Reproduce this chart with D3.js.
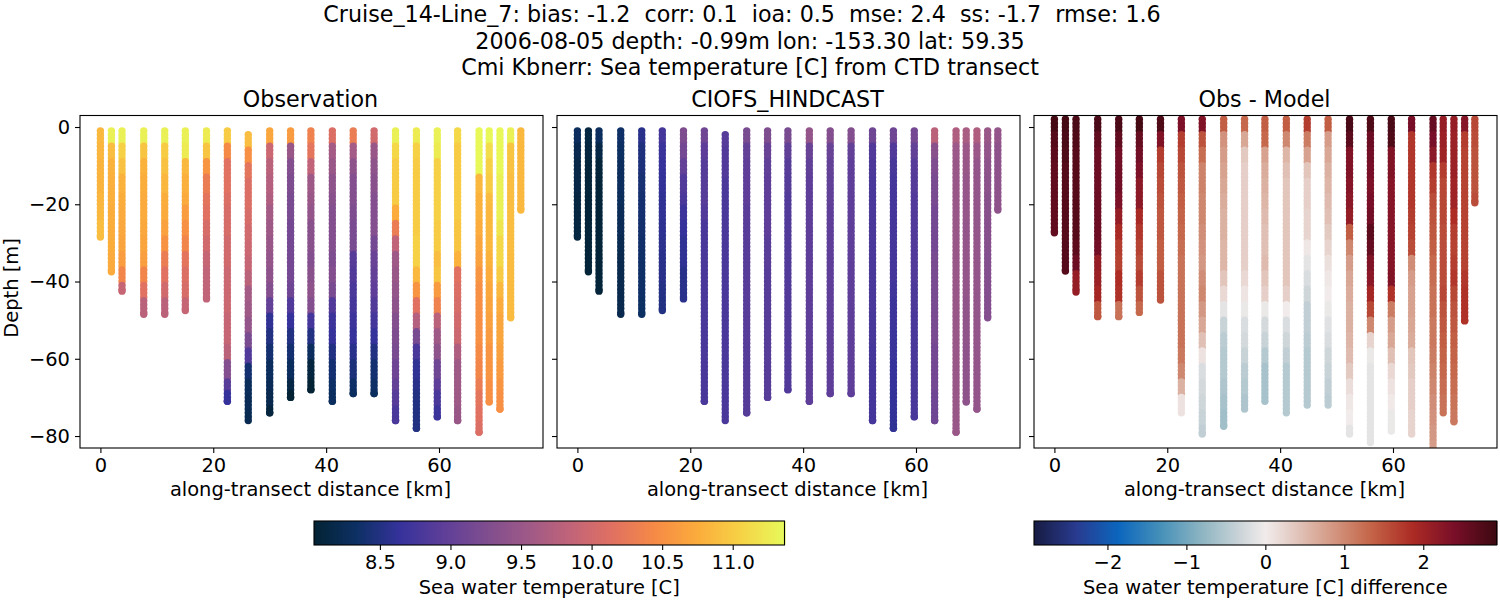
<!DOCTYPE html>
<html>
<head>
<meta charset="utf-8">
<script src="https://cdnjs.cloudflare.com/ajax/libs/d3/7.8.5/d3.min.js"></script>
<style>
  body { margin: 0; background: #fff; }
  text { font-family: "DejaVu Sans"; fill: #000; white-space: pre; }
  .tick text { font-size: 19.44px; }
  .domain { display: none; }
  .tick line { stroke: #000; stroke-width: 1.1px; }
</style>
</head>
<body>
<svg id="vis" width="1500" height="600"></svg>
<script>
var titleLines = [
  "Cruise_14-Line_7: bias: -1.2  corr: 0.1  ioa: 0.5  mse: 2.4  ss: -1.7  rmse: 1.6",
  "2006-08-05 depth: -0.99m lon: -153.30 lat: 59.35",
  "Cmi Kbnerr: Sea temperature [C] from CTD transect"
];
var titleCenters = [742, 750, 750];
var panelTitles = ["Observation", "CIOFS_HINDCAST", "Obs - Model"];
var xTicks = [0, 20, 40, 60];
var yTicks = [0, -20, -40, -60, -80];
var tempTicks = [8.5, 9, 9.5, 10, 10.5, 11];
var diffTicks = [-2, -1, 0, 1, 2];
var tempRange = [8.033, 11.367];
var diffRange = [-2.93, 2.93];

// station positions along the transect, km
var stationKm = [0, 1.95, 3.83, 7.68, 11.4, 15.05, 18.8, 22.5, 26.2, 30, 33.7, 37.3, 41.1, 44.8, 48.5, 52.3, 56, 59.7, 63.3, 67.1, 68.9, 70.8, 72.7, 74.5];

// shallowest and deepest reading per station, m
var obsTop = [-0.99, -0.99, -0.99, -0.99, -0.99, -0.99, -0.99, -0.99, -2, -0.99, -0.99, -0.99, -0.99, -0.99, -0.99, -0.99, -0.99, -0.99, -0.99, -0.99, -0.99, -0.99, -0.99, -0.99];
var obsBottom = [-28.5, -37.5, -42.5, -48.5, -48.5, -47.5, -44.5, -71, -76, -74, -70, -68, -71, -69, -69, -76, -78, -75, -76, -79, -71.2, -73, -49.4, -21.5];
var diffTop = [2, 2, 2, 2, 2, 2, 2, 2, 2, 2, 2, 2, 2, 2, 2, 2, 2, 2, 2, 2, 2, 2, 2, 2];
var diffBottom = [-27.4, -37.3, -42.7, -49.1, -49.1, -48, -44.8, -74, -79.5, -77.5, -73, -71, -74, -72, -72, -79.5, -81.7, -78.7, -79.5, -84, -74, -76.3, -50.2, -19.6];

// each list holds one reading per 4 m of depth, from the top of the station down
var bandMetres = 4;

var obsTemp = [
  [10.85, 10.83, 10.82, 10.82, 10.83, 10.85, 10.9, 10.96],
  [11.3, 10.9, 10.8, 10.78, 10.78, 10.76, 10.76, 10.76, 10.74, 10.74],
  [11.3, 11.05, 10.92, 10.8, 10.76, 10.74, 10.72, 10.68, 10.62, 10.4, 9.9],
  [11.3, 10.95, 10.8, 10.76, 10.74, 10.74, 10.72, 10.68, 10.64, 10.4, 10.15, 9.8, 9.55],
  [11.3, 11.0, 10.92, 10.84, 10.76, 10.74, 10.66, 10.52, 10.3, 10.15, 10.0, 9.8, 9.6],
  [11.3, 11.25, 10.85, 10.78, 10.74, 10.62, 10.5, 10.4, 10.2, 10.1, 10.05, 9.9, 9.6],
  [11.25, 10.95, 10.55, 10.3, 10.2, 10.15, 10.05, 10.0, 9.9, 9.85, 9.85, 9.85],
  [11.0, 10.45, 10.15, 10.15, 10.1, 10.05, 10.05, 10.0, 10.0, 9.95, 9.95, 9.95, 9.9, 9.9, 9.8, 9.3, 8.9, 8.65],
  [10.9, 10.5, 10.2, 10.1, 10.1, 10.05, 10.0, 9.95, 9.9, 9.8, 9.6, 9.55, 9.45, 9.2, 8.85, 8.4, 8.28, 8.25, 8.22, 8.2],
  [10.7, 9.95, 9.8, 9.75, 9.7, 9.6, 9.55, 9.5, 9.45, 9.4, 9.3, 9.0, 8.6, 8.5, 8.4, 8.3, 8.25, 8.2, 8.1],
  [10.6, 9.5, 9.3, 9.25, 9.2, 9.2, 9.15, 9.15, 9.15, 9.15, 9.1, 8.85, 8.65, 8.5, 8.4, 8.3, 8.15, 8.05],
  [10.35, 10.2, 9.85, 9.55, 9.5, 9.45, 9.35, 9.35, 9.3, 9.35, 9.4, 9.3, 8.75, 8.5, 8.3, 8.1, 8.05],
  [10.1, 9.6, 9.5, 9.4, 9.35, 9.3, 9.3, 9.3, 9.25, 9.3, 9.2, 8.85, 8.7, 8.65, 8.5, 8.4, 8.35, 8.3],
  [10.3, 9.6, 9.4, 9.3, 9.3, 9.25, 9.2, 9.2, 8.9, 8.85, 8.8, 8.75, 8.7, 8.65, 8.55, 8.45, 8.35, 8.3],
  [10.0, 9.5, 9.4, 9.35, 9.3, 9.3, 9.3, 9.15, 9.05, 9.0, 8.95, 8.85, 8.75, 8.65, 8.5, 8.4, 8.35, 8.3],
  [11.3, 11.1, 11.0, 11.0, 11.0, 10.75, 10.3, 9.85, 9.55, 9.5, 9.45, 9.4, 9.3, 9.25, 9.2, 9.1, 9.0, 8.9, 8.8, 8.7],
  [11.25, 11.05, 11.0, 11.0, 11.0, 11.0, 11.0, 11.05, 11.05, 10.85, 10.55, 10.15, 9.75, 9.2, 8.8, 8.6, 8.55, 8.5, 8.5, 8.5],
  [11.3, 11.25, 11.05, 11.05, 11.05, 11.05, 11.0, 11.0, 10.9, 10.95, 10.6, 10.35, 9.8, 9.55, 9.4, 9.1, 8.95, 8.8, 8.7],
  [11.1, 11.0, 11.0, 11.0, 11.0, 11.0, 10.95, 10.95, 10.8, 10.15, 10.1, 10.05, 10.0, 9.95, 9.7, 9.55, 9.55, 9.55, 9.5, 9.5],
  [11.35, 11.35, 11.35, 10.85, 10.8, 10.8, 10.75, 10.7, 10.65, 10.55, 10.5, 10.5, 10.5, 10.5, 10.45, 10.4, 10.3, 10.2, 10.15, 10.1],
  [11.35, 11.15, 11.05, 11.0, 10.88, 10.85, 10.85, 10.85, 10.8, 10.75, 10.72, 10.68, 10.65, 10.6, 10.55, 10.55, 10.5, 10.5],
  [11.35, 11.35, 11.35, 11.3, 11.3, 11.3, 11.2, 11.1, 11.1, 11.0, 10.85, 10.75, 10.7, 10.7, 10.65, 10.6, 10.55, 10.5, 10.5],
  [11.3, 10.95, 10.92, 10.9, 10.9, 10.9, 10.9, 10.9, 10.88, 10.88, 10.88, 10.88, 10.88],
  [10.85, 10.85, 10.85, 10.85, 10.85, 10.85]
];

var modelTemp = [
  [8.3, 8.2, 8.15, 8.15, 8.12, 8.12, 8.12, 8.12],
  [8.12, 8.1, 8.08, 8.08, 8.07, 8.07, 8.07, 8.07, 8.07, 8.07],
  [8.3, 8.15, 8.08, 8.07, 8.07, 8.07, 8.07, 8.07, 8.07, 8.07, 8.07],
  [8.35, 8.33, 8.3, 8.3, 8.28, 8.25, 8.25, 8.22, 8.2, 8.2, 8.2, 8.2, 8.2],
  [8.55, 8.48, 8.45, 8.42, 8.4, 8.4, 8.38, 8.37, 8.35, 8.35, 8.35, 8.33, 8.33],
  [8.75, 8.68, 8.65, 8.62, 8.6, 8.6, 8.58, 8.57, 8.55, 8.55, 8.52, 8.5, 8.5],
  [9.25, 9.15, 9.0, 8.85, 8.8, 8.7, 8.65, 8.6, 8.6, 8.55, 8.55, 8.6],
  [9.1, 8.95, 8.9, 8.9, 8.9, 8.85, 8.8, 8.8, 8.8, 8.8, 8.8, 8.8, 8.8, 8.8, 8.8, 8.8, 8.8, 8.8],
  [8.9, 8.85, 8.85, 8.8, 8.8, 8.8, 8.8, 8.8, 8.8, 8.8, 8.8, 8.8, 8.8, 8.8, 8.8, 8.8, 8.8, 8.8, 8.8, 8.8],
  [9.2, 9.0, 8.95, 8.95, 8.95, 8.92, 8.9, 8.9, 8.9, 8.9, 8.9, 8.9, 8.9, 8.9, 8.88, 8.88, 8.88, 8.88, 8.88],
  [9.25, 9.05, 8.98, 8.95, 8.95, 8.95, 8.95, 8.92, 8.92, 8.9, 8.9, 8.9, 8.9, 8.9, 8.9, 8.9, 8.9, 8.9],
  [9.2, 8.98, 8.9, 8.88, 8.85, 8.85, 8.85, 8.85, 8.85, 8.85, 8.85, 8.85, 8.85, 8.85, 8.85, 8.85, 8.85],
  [9.45, 9.05, 8.98, 8.95, 8.95, 8.95, 8.95, 8.95, 8.95, 8.95, 8.95, 8.95, 8.95, 8.95, 8.95, 8.95, 8.95, 8.95],
  [9.3, 9.05, 9.0, 8.98, 8.98, 8.95, 8.95, 8.95, 8.95, 8.95, 8.95, 8.95, 8.95, 8.95, 8.95, 8.95, 8.95, 8.95],
  [9.3, 9.0, 8.95, 8.95, 8.95, 8.95, 8.95, 8.95, 8.95, 8.95, 8.95, 8.95, 8.95, 8.95, 8.95, 8.95, 8.95, 8.95],
  [9.1, 8.85, 8.82, 8.8, 8.8, 8.8, 8.8, 8.8, 8.8, 8.8, 8.8, 8.8, 8.78, 8.78, 8.75, 8.75, 8.75, 8.75, 8.75, 8.75],
  [9.1, 8.85, 8.78, 8.75, 8.75, 8.75, 8.75, 8.75, 8.75, 8.75, 8.72, 8.7, 8.7, 8.68, 8.68, 8.65, 8.65, 8.62, 8.62, 8.6],
  [9.15, 9.0, 8.9, 8.88, 8.85, 8.85, 8.85, 8.85, 8.85, 8.85, 8.82, 8.82, 8.8, 8.8, 8.8, 8.8, 8.8, 8.8, 8.8],
  [9.8, 9.35, 9.25, 9.2, 9.2, 9.15, 9.15, 9.15, 9.2, 9.2, 9.2, 9.2, 9.2, 9.2, 9.15, 9.15, 9.15, 9.1, 9.1, 9.1],
  [9.7, 9.52, 9.5, 9.5, 9.5, 9.5, 9.5, 9.5, 9.5, 9.5, 9.5, 9.5, 9.5, 9.5, 9.5, 9.5, 9.5, 9.5, 9.5, 9.5],
  [9.65, 9.52, 9.5, 9.48, 9.48, 9.48, 9.45, 9.45, 9.45, 9.45, 9.45, 9.42, 9.42, 9.42, 9.4, 9.4, 9.4, 9.4],
  [9.7, 9.52, 9.45, 9.45, 9.45, 9.45, 9.45, 9.45, 9.45, 9.45, 9.45, 9.45, 9.45, 9.45, 9.45, 9.45, 9.45, 9.45, 9.45],
  [9.5, 9.45, 9.4, 9.38, 9.35, 9.35, 9.33, 9.32, 9.3, 9.3, 9.3, 9.3, 9.3],
  [9.45, 9.4, 9.4, 9.4, 9.4, 9.4]
];

var diffTemp = [
  [2.85, 2.7, 2.65, 2.6, 2.6, 2.6, 2.6, 2.6],
  [2.85, 2.8, 2.75, 2.7, 2.7, 2.7, 2.7, 2.7, 2.7, 2.7],
  [2.8, 2.75, 2.7, 2.7, 2.7, 2.7, 2.7, 2.7, 2.65, 2.5, 2.1],
  [2.8, 2.6, 2.5, 2.5, 2.5, 2.5, 2.5, 2.5, 2.45, 2.1, 2.05, 1.95, 1.45],
  [2.8, 2.6, 2.45, 2.45, 2.45, 2.35, 2.1, 1.9, 1.7, 1.65, 1.85, 1.8, 1.2],
  [2.85, 2.55, 2.45, 2.35, 2.2, 2.2, 1.9, 1.75, 1.65, 1.55, 1.7, 1.5, 1.3],
  [2.75, 2.3, 1.7, 1.6, 1.55, 1.5, 1.45, 1.45, 1.4, 1.4, 1.5, 1.5],
  [2.35, 1.7, 1.6, 1.5, 1.45, 1.4, 1.35, 1.3, 1.25, 1.2, 1.2, 1.2, 1.2, 1.2, 1.2, 1.15, 1.0, 0.6, 0.1],
  [2.3, 1.5, 1.25, 1.05, 1.05, 1.0, 1.0, 0.95, 0.9, 0.85, 0.95, 1.0, 0.85, 0.7, 0.45, 0.1, -0.2, -0.25, -0.3, -0.35, -0.4],
  [1.4, 0.9, 0.8, 0.75, 0.7, 0.65, 0.6, 0.6, 0.55, 0.55, 0.4, 0.2, -0.1, -0.35, -0.45, -0.5, -0.5, -0.55, -0.6, -0.65],
  [1.3, 0.7, 0.35, 0.3, 0.3, 0.3, 0.3, 0.3, 0.3, 0.3, 0.2, 0.08, -0.05, -0.2, -0.25, -0.35, -0.45, -0.5, -0.55],
  [1.4, 1.3, 0.75, 0.65, 0.6, 0.55, 0.5, 0.45, 0.45, 0.5, 0.4, 0.3, -0.05, -0.25, -0.35, -0.5, -0.6, -0.6, -0.6],
  [1.4, 1.0, 0.55, 0.45, 0.4, 0.4, 0.4, 0.4, 0.4, 0.4, 0.4, 0.3, 0, -0.2, -0.3, -0.4, -0.5, -0.5, -0.5],
  [1.7, 1.1, 0.75, 0.4, 0.3, 0.3, 0.25, 0.25, 0.05, -0.1, -0.2, -0.3, -0.4, -0.4, -0.45, -0.5, -0.5, -0.5, -0.5],
  [1.4, 0.8, 0.7, 0.6, 0.55, 0.5, 0.45, 0.35, 0.25, 0.12, 0.05, 0, -0.05, -0.15, -0.2, -0.3, -0.35, -0.4, -0.45],
  [2.8, 2.65, 2.3, 2.3, 2.25, 2.2, 2.1, 1.4, 1.0, 0.8, 0.7, 0.65, 0.6, 0.6, 0.55, 0.5, 0.35, 0.15, 0.05, 0, -0.1],
  [2.75, 2.5, 2.45, 2.4, 2.35, 2.4, 2.45, 2.65, 2.55, 2.3, 2.2, 1.95, 1.6, 1.0, 0.25, -0.05, -0.1, -0.1, -0.1, -0.1, -0.1],
  [2.8, 2.75, 2.3, 2.3, 2.25, 2.25, 2.25, 2.25, 2.25, 2.25, 2.3, 1.8, 1.1, 0.8, 0.7, 0.45, 0.2, 0.1, 0.03, -0.05, -0.05],
  [2.4, 1.75, 1.75, 1.75, 1.75, 1.75, 1.7, 1.65, 1.55, 0.95, 0.8, 0.75, 0.75, 0.7, 0.65, 0.4, 0.35, 0.3, 0.3, 0.25, 0.25],
  [2.55, 2.4, 2.2, 1.75, 1.7, 1.55, 1.5, 1.45, 1.4, 1.3, 1.25, 1.2, 1.2, 1.15, 1.15, 1.1, 1.05, 1.0, 0.95, 0.9, 0.85, 0.8],
  [2.1, 2.05, 2.0, 1.7, 1.6, 1.6, 1.6, 1.55, 1.55, 1.55, 1.55, 1.6, 1.5, 1.45, 1.4, 1.35, 1.3, 1.25, 1.2],
  [2.1, 2.05, 2.05, 2.05, 2.0, 2.0, 1.85, 1.7, 1.65, 1.7, 1.75, 1.6, 1.5, 1.45, 1.4, 1.35, 1.3, 1.25, 1.2, 1.15],
  [2.25, 1.7, 1.65, 1.65, 1.65, 1.65, 1.65, 1.65, 1.65, 1.65, 1.75, 1.8, 1.8],
  [1.6, 1.55, 1.5, 1.5, 1.5, 1.55]
];

// colormaps sampled evenly, low to high
var thermalColors = ["#032333", "#0d3064", "#35329b", "#5d3e99", "#7e4d8f", "#9e5987", "#c16479", "#e17161", "#f68b45", "#fbad3c", "#f6d346", "#e7fa5a"];
var balanceColors = ["#171c42", "#293a8f", "#0b66bd", "#4590b9", "#8eb5c2", "#d2d8db", "#f1eceb", "#e6d2cc", "#d59d89", "#c46548", "#ac2b24", "#780e28", "#3c0911"];
var balanceStops = [0, 1/11, 2/11, 3/11, 4/11, 5/11, 0.5, 6/11, 7/11, 8/11, 9/11, 10/11, 1];

var thermal = d3.scaleLinear()
  .domain(thermalColors.map(function(c, i) { return tempRange[0] + (tempRange[1] - tempRange[0]) * i / (thermalColors.length - 1); }))
  .range(thermalColors);

var balance = d3.scaleLinear()
  .domain(balanceStops.map(function(s) { return diffRange[0] + (diffRange[1] - diffRange[0]) * s; }))
  .range(balanceColors);

var vis = d3.select("#vis");

var panels = [
  { left: 80, right: 543, values: obsTemp, top: obsTop, bottom: obsBottom, color: thermal },
  { left: 557, right: 1020, values: modelTemp, top: obsTop, bottom: obsBottom, color: thermal },
  { left: 1034, right: 1497, values: diffTemp, top: diffTop, bottom: diffBottom, color: balance }
];

var axTop = 115.5, axBottom = 448;
var y = d3.scaleLinear().domain([2.98, -83.1]).range([axTop, axBottom]);

// one dot per metre down to the deepest reading; deeper dots are drawn over shallower ones
function stationPoints(panel) {
  var pts = [];
  stationKm.forEach(function(km, i) {
    var depths = d3.range(panel.top[i], panel.bottom[i], -1);
    depths.push(panel.bottom[i]);
    depths.forEach(function(depth) {
      var band = Math.min(Math.floor((panel.top[i] - depth) / bandMetres), panel.values[i].length - 1);
      pts.push({ km: km, depth: depth, value: panel.values[i][band] });
    });
  });
  return pts;
}

panels.forEach(function(panel, p) {
  var x = d3.scaleLinear().domain([-3.615, 78.43]).range([panel.left, panel.right]);
  var g = vis.append("g");

  vis.append("clipPath").attr("id", "clip" + p).append("rect")
    .attr("x", panel.left).attr("y", axTop)
    .attr("width", panel.right - panel.left).attr("height", axBottom - axTop);

  g.append("g").attr("clip-path", "url(#clip" + p + ")")
    .selectAll("circle")
    .data(stationPoints(panel))
    .enter()
    .append("circle")
    .attr("cx", function(d) { return x(d.km); })
    .attr("cy", function(d) { return y(d.depth); })
    .attr("r", 3.7)
    .attr("fill", function(d) { return panel.color(d.value); });

  g.append("g").attr("transform", "translate(0," + axBottom + ")")
    .call(d3.axisBottom(x).tickValues(xTicks).tickSize(5).tickPadding(5));

  var yAxis = d3.axisLeft(y).tickValues(yTicks).tickSize(5).tickPadding(5);
  if (p > 0) yAxis.tickFormat("");
  g.append("g").attr("transform", "translate(" + panel.left + ",0)").call(yAxis);

  g.append("rect")
    .attr("x", panel.left).attr("y", axTop)
    .attr("width", panel.right - panel.left).attr("height", axBottom - axTop)
    .attr("fill", "none").attr("stroke", "#000").attr("stroke-width", 1.1);

  g.append("text")
    .attr("x", (panel.left + panel.right) / 2 - 1).attr("y", 107)
    .attr("text-anchor", "middle").style("font-size", "22.22px")
    .text(panelTitles[p]);

  g.append("text")
    .attr("x", (panel.left + panel.right) / 2 - 1).attr("y", 496)
    .attr("text-anchor", "middle").style("font-size", "19.44px")
    .text("along-transect distance [km]");
});

vis.append("text")
  .attr("transform", "translate(18,288) rotate(-90)")
  .attr("text-anchor", "middle").style("font-size", "19.44px")
  .text("Depth [m]");

titleLines.forEach(function(line, i) {
  vis.append("text")
    .attr("x", titleCenters[i]).attr("y", 22 + i * 26.5)
    .attr("text-anchor", "middle").style("font-size", "22.22px")
    .text(line);
});

function colorbar(left, right, domain, color, ticks, format, label) {
  var top = 521, bottom = 545;
  var scale = d3.scaleLinear().domain(domain).range([left, right]);
  var g = vis.append("g");
  var steps = d3.range(left, right, 1);

  g.selectAll("rect")
    .data(steps)
    .enter()
    .append("rect")
    .attr("x", function(d) { return d; })
    .attr("y", top)
    .attr("width", 1.5)
    .attr("height", bottom - top)
    .attr("fill", function(d) { return color(scale.invert(d + 0.5)); });

  g.append("rect")
    .attr("x", left).attr("y", top)
    .attr("width", right - left).attr("height", bottom - top)
    .attr("fill", "none").attr("stroke", "#000").attr("stroke-width", 1.1);

  g.append("g").attr("transform", "translate(0," + bottom + ")")
    .call(d3.axisBottom(scale).tickValues(ticks).tickSize(5).tickPadding(5).tickFormat(format));

  g.append("text")
    .attr("x", (left + right) / 2).attr("y", 594)
    .attr("text-anchor", "middle").style("font-size", "19.44px")
    .text(label);
}

colorbar(314, 784.5, tempRange, thermal, tempTicks, d3.format(".1f"), "Sea water temperature [C]");
colorbar(1034, 1496.7, diffRange, balance, diffTicks, d3.format("d"), "Sea water temperature [C] difference");
</script>
</body>
</html>
